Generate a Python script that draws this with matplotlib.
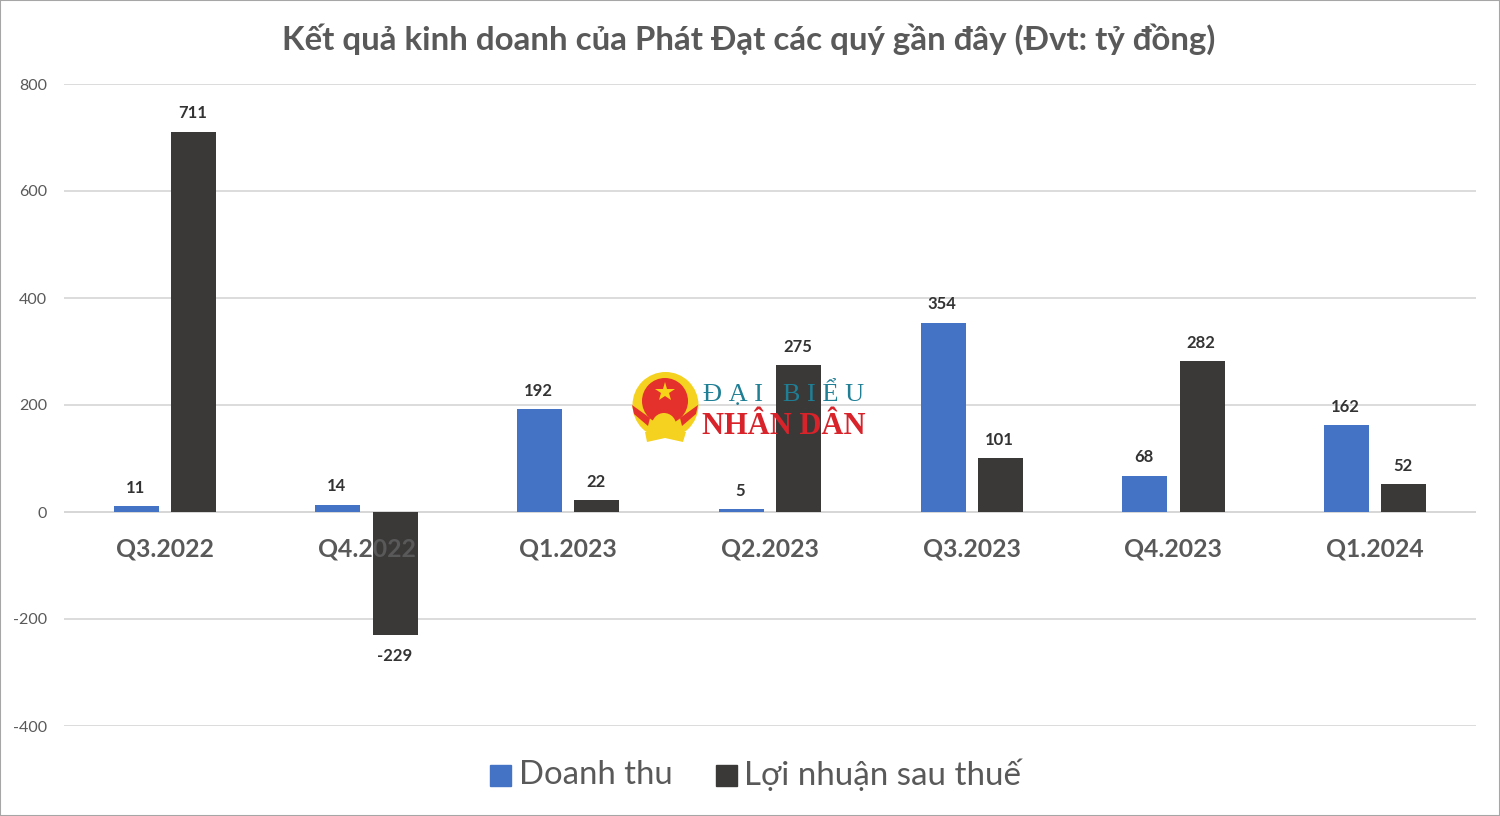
import matplotlib
matplotlib.use("Agg")
import matplotlib.pyplot as plt
import numpy as np
from matplotlib.patches import Circle, Polygon

# values
QUARTERS = ["Q3.2022", "Q4.2022", "Q1.2023", "Q2.2023", "Q3.2023", "Q4.2023", "Q1.2024"]
REVENUE = [11, 14, 192, 5, 354, 68, 162]
PROFIT = [711, -229, 22, 275, 101, 282, 52]
Y_TICKS = [-400, -200, 0, 200, 400, 600, 800]

BLUE = "#4472C4"
DARK = "#3B3838"
GREY = "#595959"

plt.rcParams["font.family"] = ["Lato", "Open Sans", "DejaVu Sans"]
plt.rcParams["axes.unicode_minus"] = False

fig = plt.figure(figsize=(15, 8.16), dpi=100, facecolor="white")
ax = fig.add_axes([64 / 1500, 1 - 726 / 816, (1476 - 64) / 1500, (726 - 84) / 816])

x = np.arange(len(QUARTERS))
w = 45 / 201.7
off = 28.7 / 201.7
ax.bar(x - off, REVENUE, w, color=BLUE, zorder=3)
ax.bar(x + off, PROFIT, w, color=DARK, zorder=3)

ax.set_xlim(-0.5, len(QUARTERS) - 0.5)
ax.set_ylim(-400, 800)
ax.set_yticks(Y_TICKS)
ax.tick_params(axis="y", length=0, labelsize=11.5, labelcolor=GREY, pad=12)
ax.set_xticks([])
ax.grid(axis="y", color="#D9D9D9", linewidth=1.3, zorder=0)
ax.axhline(0, color="#C8C8C8", linewidth=1.3, zorder=1)
for s in ax.spines.values():
    s.set_visible(False)

for i, q in enumerate(QUARTERS):
    ax.text(i, -70, q, ha="center", va="center", fontsize=17.8, fontweight="bold", color=GREY, zorder=5)
    ax.text(i - off - 0.005, REVENUE[i] + 19, str(REVENUE[i]), ha="center", va="bottom", fontsize=12, fontweight="bold", color="#333333", zorder=5)
    if PROFIT[i] < 0:
        ax.text(i + off - 0.005, PROFIT[i] - 26, str(PROFIT[i]), ha="center", va="top", fontsize=12, fontweight="bold", color="#333333", zorder=5)
    else:
        ax.text(i + off - 0.005, PROFIT[i] + 19, str(PROFIT[i]), ha="center", va="bottom", fontsize=12, fontweight="bold", color="#333333", zorder=5)

fig.text(749 / 1500, 1 - 39 / 816, "Kết quả kinh doanh của Phát Đạt các quý gần đây (Đvt: tỷ đồng)",
         ha="center", va="center", fontsize=23.8, fontweight="bold", color=GREY)

# legend
fig.patches.append(plt.Rectangle((490 / 1500, 1 - 786 / 816), 21 / 1500, 21 / 816, transform=fig.transFigure, color=BLUE))
fig.text(519 / 1500, 1 - 775 / 816, "Doanh thu", ha="left", va="center", fontsize=23.7, color=GREY)
fig.patches.append(plt.Rectangle((716 / 1500, 1 - 786 / 816), 21 / 1500, 21 / 816, transform=fig.transFigure, color=DARK))
fig.text(744 / 1500, 1 - 775 / 816, "Lợi nhuận sau thuế", ha="left", va="center", fontsize=23.9, color=GREY)

# watermark logo
lax = fig.add_axes([0, 0, 1, 1], facecolor="none")
lax.set_xlim(0, 1500)
lax.set_ylim(816, 0)
lax.axis("off")
lax.add_patch(Circle((665.5, 405), 33, facecolor="#F4D21F", edgecolor="none", zorder=6))
lax.add_patch(Polygon([[645, 432], [686, 432], [683, 442], [665, 438], [647, 442]], facecolor="#F4D21F", edgecolor="none", zorder=6))
lax.add_patch(Circle((665, 401), 23, facecolor="#E5312B", edgecolor="none", zorder=7))
lax.add_patch(Polygon([[632, 405], [650, 418], [648, 426], [634, 414]], facecolor="#E5312B", edgecolor="none", zorder=7))
lax.add_patch(Polygon([[698, 405], [680, 418], [682, 426], [696, 414]], facecolor="#E5312B", edgecolor="none", zorder=7))
lax.add_patch(Circle((664, 425), 12, facecolor="#F4D21F", edgecolor="none", zorder=7))
lax.plot([665], [392], marker="*", markersize=15, color="#F7D417", markeredgewidth=0, zorder=8)
lax.text(784, 393, "Đ Ạ I   B I Ể U", ha="center", va="center", fontsize=19, family=["Liberation Serif"], color="#1F7F95", zorder=8)
lax.text(784, 427, "NHÂN DÂN", ha="center", va="center", fontsize=22, family=["Liberation Serif"], fontweight="bold", color="#D8232A", zorder=8)

# thin image border
fig.patches.append(plt.Rectangle((0, 0), 1, 1, transform=fig.transFigure, fill=False, edgecolor="#A6A6A6", linewidth=1.5))

fig.savefig("out.png", dpi=100)
